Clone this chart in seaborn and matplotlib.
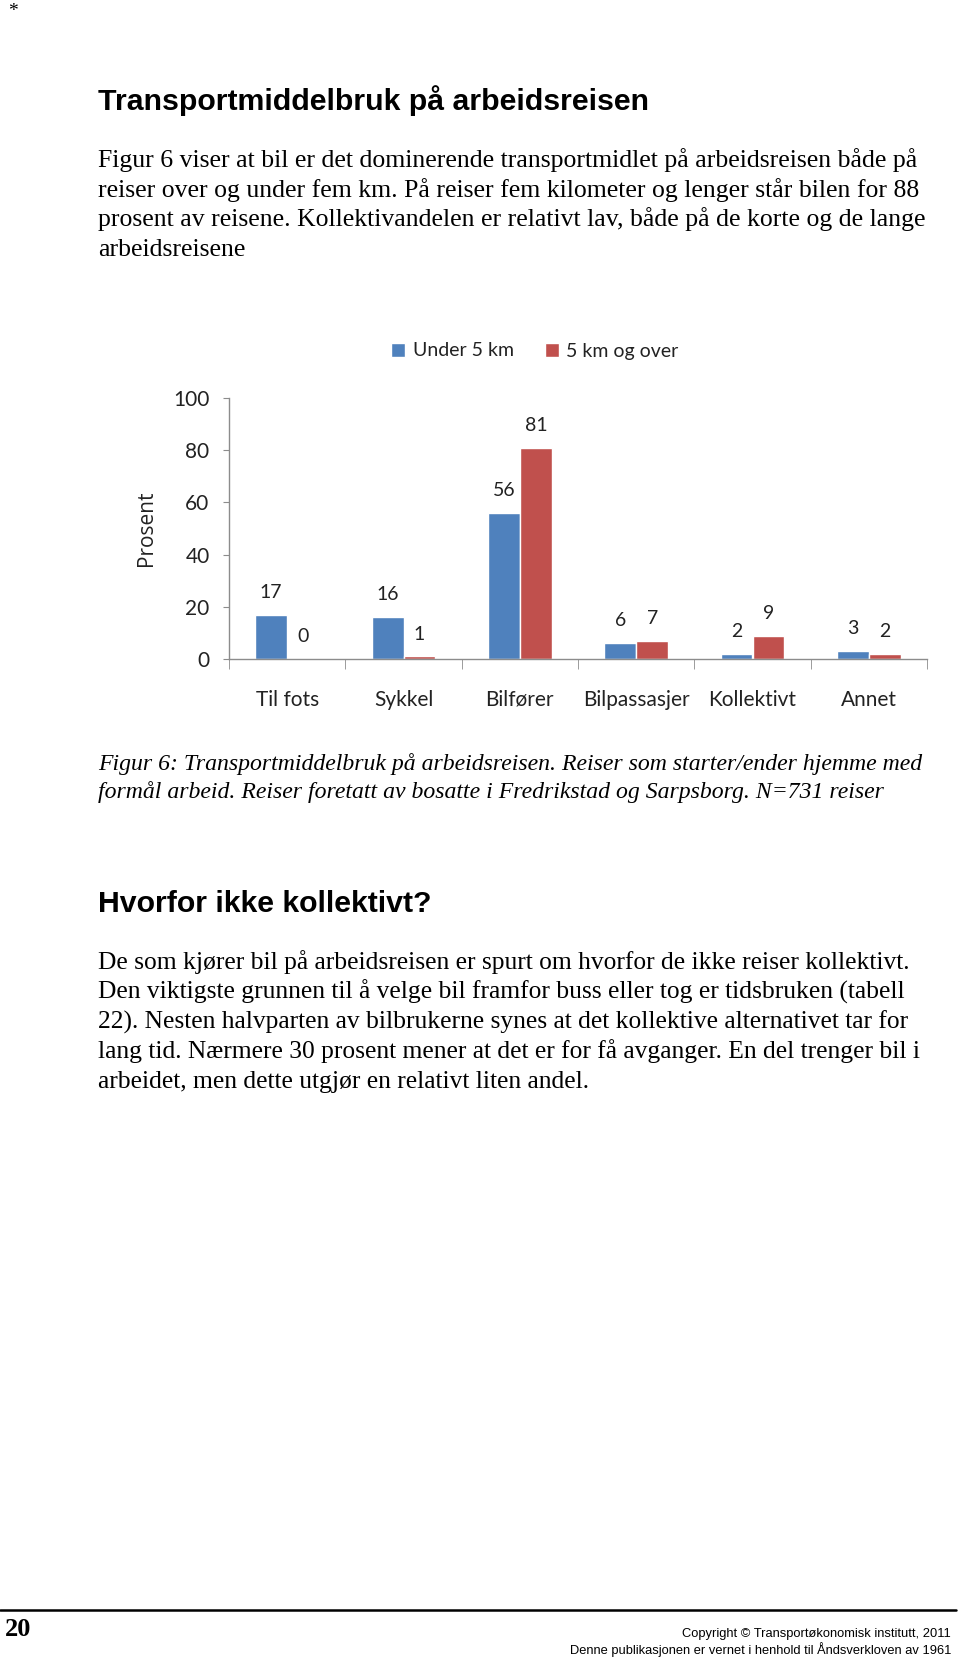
import numpy as np
import pandas as pd
import seaborn as sns
import matplotlib.pyplot as plt
from matplotlib.patches import Patch

# data
kategorier = ['Til fots', 'Sykkel', 'Bilfører', 'Bilpassasjer', 'Kollektivt', 'Annet']
under_5km = [17, 16, 56, 6, 2, 3]
over_5km = [0, 1, 81, 7, 9, 2]
serier = ['Under 5 km', '5 km og over']
farger = ['#4F81BD', '#C0504D']

avsnitt1 = ['Figur 6 viser at bil er det dominerende transportmidlet på arbeidsreisen både på',
            'reiser over og under fem km. På reiser fem kilometer og lenger står bilen for 88',
            'prosent av reisene. Kollektivandelen er relativt lav, både på de korte og de lange',
            'arbeidsreisene']
figurtekst = ['Figur 6: Transportmiddelbruk på arbeidsreisen. Reiser som starter/ender hjemme med',
              'formål arbeid. Reiser foretatt av bosatte i Fredrikstad og Sarpsborg. N=731 reiser']
avsnitt2 = ['De som kjører bil på arbeidsreisen er spurt om hvorfor de ikke reiser kollektivt.',
            'Den viktigste grunnen til å velge bil framfor buss eller tog er tidsbruken (tabell',
            '22). Nesten halvparten av bilbrukerne synes at det kollektive alternativet tar for',
            'lang tid. Nærmere 30 prosent mener at det er for få avganger. En del trenger bil i',
            'arbeidet, men dette utgjør en relativt liten andel.']

df = pd.DataFrame({
    'kategori': kategorier * 2,
    'prosent': under_5km + over_5km,
    'serie': [serier[0]] * 6 + [serier[1]] * 6,
})

sns.set_style('white')
plt.rcParams['font.family'] = ['Lato', 'DejaVu Sans']

W, H = 960, 1659
fig = plt.figure(figsize=(W / 100, H / 100), dpi=100)

def fy(y):
    return 1 - y / H

ax = fig.add_axes([229 / W, fy(659), (927 - 229) / W, (659 - 398) / H])
sns.barplot(data=df, x='kategori', y='prosent', hue='serie', palette=farger,
            width=0.55, saturation=1, ax=ax, legend=False)

for c in ax.containers:
    ax.bar_label(c, fmt='%g', padding=10, fontsize=14, color='#222222')

ax.set_ylim(0, 100)
ax.set_xlim(-0.5, 5.5)
ax.set_yticks([0, 20, 40, 60, 80, 100])
ax.set_xlabel('')
ax.set_ylabel('Prosent', fontsize=15, labelpad=12, color='#222222')
ax.yaxis.label.set_family(['Open Sans', 'DejaVu Sans'])
sns.despine(ax=ax)
for s in ['left', 'bottom']:
    ax.spines[s].set_color('#8c8c8c')
    ax.spines[s].set_linewidth(1)
ax.set_xticks(np.arange(-0.5, 6, 1), minor=True)
ax.tick_params(axis='x', which='major', length=0, pad=22, labelsize=15, labelcolor='#222222')
ax.tick_params(axis='x', which='minor', length=7, color='#8c8c8c', direction='out', bottom=True)
ax.tick_params(axis='y', length=4, color='#8c8c8c', direction='out', left=True, pad=10,
               labelsize=15, labelcolor='#222222')

handles = [Patch(facecolor=f, label=s) for f, s in zip(farger, serier)]
fig.legend(handles=handles, loc='center', bbox_to_anchor=(535 / W, fy(351)), ncol=2,
           frameon=False, fontsize=14, handlelength=0.7, handleheight=0.7,
           handletextpad=0.4, columnspacing=1.6, labelcolor='#222222')

# page text
serif = ['Liberation Serif', 'DejaVu Serif']
sans = ['Liberation Sans', 'DejaVu Sans']
x0 = 98 / W
fig.text(13 / W, fy(11), '*', family=serif, fontsize=14, ha='center', va='center', color='black')
fig.text(x0, fy(110), 'Transportmiddelbruk på arbeidsreisen', family=sans, weight='bold',
         fontsize=21.8, va='baseline', color='black')
for i, linje in enumerate(avsnitt1):
    fig.text(x0, fy(167 + i * 29.7), linje, family=serif, fontsize=18.5, va='baseline', color='black')
for i, linje in enumerate(figurtekst):
    fig.text(x0, fy(770 + i * 28), linje, family=serif, style='italic', fontsize=17.1,
             va='baseline', color='black')
fig.text(x0, fy(912), 'Hvorfor ikke kollektivt?', family=sans, weight='bold',
         fontsize=21.8, va='baseline', color='black')
for i, linje in enumerate(avsnitt2):
    fig.text(x0, fy(969 + i * 29.7), linje, family=serif, fontsize=18.4, va='baseline', color='black')

fig.add_artist(plt.Line2D([0, 956 / W], [fy(1610), fy(1610)], color='black', lw=1.8))
fig.text(5 / W, fy(1636), '20', family=serif, weight='bold', fontsize=19, va='baseline', color='black')
fig.text(951 / W, fy(1637), 'Copyright © Transportøkonomisk institutt, 2011', family=sans,
         fontsize=9.3, ha='right', va='baseline', color='black')
fig.text(951 / W, fy(1654), 'Denne publikasjonen er vernet i henhold til Åndsverkloven av 1961',
         family=sans, fontsize=9.3, ha='right', va='baseline', color='black')

fig.savefig('out.png', dpi=100)
